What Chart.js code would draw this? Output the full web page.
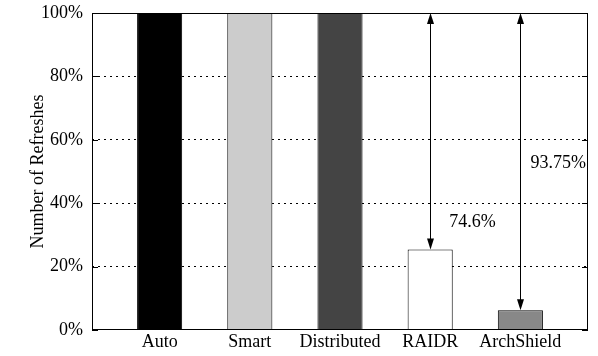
<!DOCTYPE html>
<html>
<head>
<meta charset="utf-8">
<script src="https://cdn.jsdelivr.net/npm/chart.js@4/dist/chart.umd.min.js"></script>
<style>
  html, body { margin: 0; padding: 0; background: #fff; }
  #wrap { width: 598px; height: 356px; }
</style>
</head>
<body>
<div id="wrap"><canvas id="c" width="598" height="356"></canvas></div>
<script>
// Refresh counts per scheme, as a share of the baseline
const categories = ['Auto', 'Smart', 'Distributed', 'RAIDR', 'ArchShield'];
const refreshes = [100, 100, 100, 25.4, 6.25];
const barColors = ['#000000', '#cccccc', '#444444', '#ffffff', '#888888'];
// Schemes that get a reduction arrow
const annotated = ['RAIDR', 'ArchShield'];
const yTicks = [0, 20, 40, 60, 80, 100];

const FONT = { family: '"Liberation Serif", "Times New Roman", serif', size: 18 };

// Where each reduction label sits, relative to its arrow (x in categories, y in %)
const labelPlace = [{ dx: 0.47, y: 34.1 }, { dx: 0.42, y: 52.7 }];

// Frame, inward tick marks, reduction arrows and their labels
const decor = {
  id: 'decor',
  afterDatasetsDraw(chart) {
    const { ctx, chartArea: a, scales: { x, y } } = chart;
    ctx.save();
    ctx.strokeStyle = '#000';
    ctx.lineWidth = 1;
    ctx.setLineDash([]);
    ctx.strokeRect(a.left + 0.5, a.top + 0.5, a.right - a.left - 1, a.bottom - a.top - 1);

    yTicks.forEach(v => {
      const py = Math.round(y.getPixelForValue(v)) + 0.5;
      ctx.beginPath();
      ctx.moveTo(a.left, py); ctx.lineTo(a.left + 6, py);
      ctx.moveTo(a.right, py); ctx.lineTo(a.right - 6, py);
      ctx.stroke();
    });

    const head = (px, tip, dir) => {
      ctx.beginPath();
      ctx.moveTo(px, tip);
      ctx.lineTo(px - 3.5, tip + dir * 11);
      ctx.lineTo(px + 3.5, tip + dir * 11);
      ctx.closePath();
      ctx.fill();
    };
    ctx.fillStyle = '#000';
    ctx.font = FONT.size + 'px ' + FONT.family;
    ctx.textAlign = 'center';
    ctx.textBaseline = 'middle';
    annotated.forEach((name, k) => {
      const i = categories.indexOf(name);
      const v = refreshes[i];
      const px = Math.round(x.getPixelForValue(i)) + 0.5;
      const top = y.getPixelForValue(100);
      const bot = y.getPixelForValue(v);
      ctx.beginPath();
      ctx.moveTo(px, top + 2); ctx.lineTo(px, bot - 2);
      ctx.stroke();
      head(px, top, 1);
      head(px, bot, -1);
      const saved = parseFloat((100 - v).toFixed(2)) + '%';
      ctx.fillText(saved, x.getPixelForValue(i + labelPlace[k].dx), y.getPixelForValue(labelPlace[k].y));
    });
    ctx.restore();
  }
};

new Chart(document.getElementById('c'), {
  type: 'bar',
  data: {
    datasets: [{
      data: refreshes.map((v, i) => ({ x: i, y: v })),
      backgroundColor: barColors,
      borderColor: '#000',
      borderWidth: 1,
      barPercentage: 0.5,
      categoryPercentage: 1
    }]
  },
  options: {
    responsive: false,
    animation: false,
    devicePixelRatio: 1,
    layout: { padding: { left: 23, top: 13, right: 10, bottom: 0 } },
    plugins: { legend: { display: false }, tooltip: { enabled: false } },
    scales: {
      x: {
        type: 'linear',
        offset: false,
        min: -0.75,
        max: 4.75,
        afterBuildTicks(s) { s.ticks = categories.map((_, i) => ({ value: i })); },
        afterFit(s) { s.height = 26; s.paddingLeft = 0; s.paddingRight = 0; },
        grid: { display: false, drawTicks: false },
        border: { display: false },
        ticks: {
          color: '#000',
          font: FONT,
          padding: 1,
          maxRotation: 0,
          autoSkip: false,
          callback: v => categories[v]
        }
      },
      y: {
        min: 0,
        max: 100,
        afterBuildTicks(s) { s.ticks = yTicks.map(v => ({ value: v })); },
        afterFit(s) { s.width = 69; s.paddingTop = 0; s.paddingBottom = 0; },
        border: { display: false, dash: [2, 4] },
        grid: {
          drawTicks: false,
          color: ctx => (ctx.tick && (ctx.tick.value === 0 || ctx.tick.value === 100)) ? 'rgba(0,0,0,0)' : '#000',
          lineWidth: 1
        },
        ticks: {
          color: '#000',
          font: FONT,
          padding: 9,
          callback: v => v + '%'
        },
        title: {
          display: true,
          text: 'Number of Refreshes',
          color: '#000',
          font: FONT
        }
      }
    }
  },
  plugins: [decor]
});
</script>
</body>
</html>
